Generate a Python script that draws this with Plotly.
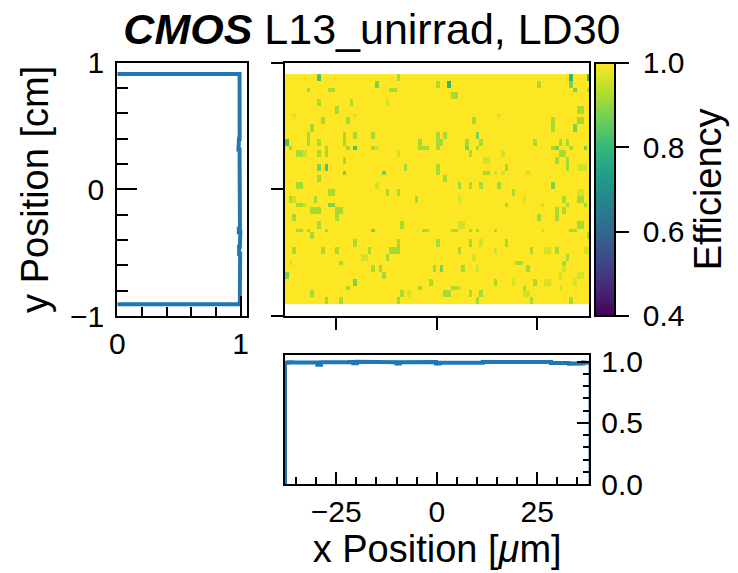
import numpy as np
import plotly.graph_objects as go

# ---- efficiency map: grid and cell values -------------------------------
N_COLS = 85
N_ROWS = 64
X_FIRST_EDGE = -37.75   # um, left edge of first column
X_BIN = 0.8943          # um
Y_TOP_EDGE = 0.91       # cm, top edge of first row
Y_BIN = 0.02838         # cm

# cells below full efficiency; every other cell is 1.0
LEVELS = {"a": 0.96, "b": 0.92, "c": 0.88, "d": 0.83, "e": 0.79}

# one entry per row (top row first): "<column><level>" tokens
ROW_DEVIATIONS = [
    "9d 31b 79e 84e",
    "9d 31b 79e 84e",
    "25c 42b 45e 70b 79c",
    "25c 42b 45e 70b 79c",
    "6b 12b 13b 29b 30b 80c 84b",
    "46b 47b",
    "46b 47b",
    "9b 18b 28a",
    "9b 18b 28a",
    "14b 81b 82b",
    "14b 81b 82b",
    "2a 19a 59a",
    "10b 17b 52b 74b 81b 82b",
    "10b 17b 52b 74b 81b 82b",
    "7b 74b 80c",
    "7b 74b 80c",
    "6b 16b 19b 24b 42b 44b 53c",
    "6b 16b 19b 24b 42b 44b 53c",
    "0d 6b 9b 16b 37b 42b 43b 50b 54b 69b 76b 78b",
    "0d 6b 9b 16b 37b 42b 43b 50b 54b 69b 76b 78b",
    "1b 11b 17b 19d 24b 25a 37b 38b 39b 42b 50c 53b 74b 75c 79b 83c",
    "3b 4b 5a 9b 11b 31a 51b 60a 76b 77b",
    "3b 4b 5a 9b 11b 31a 51b 60a 76b 77b",
    "16b 55a 56a 75b 78b",
    "16b 55a 56a 75b 78b",
    "9c 11d 33b 42b 61b 78b 81a 82a 83a",
    "9c 11d 33b 42b 61b 78b 81a 82a 83a",
    "16c 27c 42b 55b 56b 58a 60a 67a",
    "9b 44b",
    "9b 44b",
    "3b 4b 25a 48b 51b 54b 59b 74c",
    "3b 4b 25a 48b 51b 54b 59b 74c",
    "12b 13b 28b 31b 63b 81a 82a",
    "12b 13b 28b 31b 63b 81a 82a",
    "1b 2a 8b 36b 48a 66a 77b 81b 82b",
    "1b 2a 8b 36b 48a 66a 77b 81b 82b",
    "3b 4b 5a 12c 13c 61b 71a 78b 83b",
    "7b 8b 9b 14b 15b 75b 77b",
    "7b 8b 9b 14b 15b 75b 77b",
    "2b 14b 70b 75b",
    "2b 14b 70b 75b",
    "9b 32b 48a 49a 81b 82b",
    "9b 32b 48a 49a 81b 82b",
    "3b 4b 6b 11b 24c 38b 39b 46b 47b 51b 53b 58b 71a 79b 80b",
    "7b 84b",
    "7b 84b",
    "19b 31b 42b 51b 54a 61b",
    "19b 31b 42b 51b 54a 61b",
    "2b 10b 14b 23b 29b 30b 31b 48b 58a 68b 72a 73a 75b 83a 84a",
    "2b 10b 14b 23b 29b 30b 31b 48b 58a 68b 72a 73a 75b 83a 84a",
    "21a 22a 28b 52a 78b",
    "21a 22a 28b 52a 78b",
    "1a 15b 64b 65b 77b",
    "24b 26b 41b 43c 49b 53a 67b 77a",
    "24b 26b 41b 43c 49b 53a 67b 77a",
    "0c 27b 76a 81a 82a",
    "0c 27b 76a 81a 82a",
    "19c 40b 58b 63a 69b 72a 73a 80a",
    "19c 40b 58b 63a 69b 72a 73a 80a",
    "17b 37b 46b 47b 48a 66b 76a",
    "7b 32b 34a 44b 45b 51b 54b 66a 67a",
    "7b 32b 34a 44b 45b 51b 54b 66a 67a",
    "11b 15b 31b 53b 68b 79b",
    "11b 15b 31b 53b 68b 79b",
]

X_TICKS = [-25, 0, 25]
X_TICK_TEXT = ["\u221225", "0", "25"]
Y_TICKS = [-1, 0, 1]
Y_TICK_TEXT = ["\u22121", "0", "1"]
EFF_TICKS = [0.0, 0.5, 1.0]
EFF_TICK_TEXT = ["0.0", "0.5", "1.0"]
CB_TICKS = [0.4, 0.6, 0.8, 1.0]
CB_TICK_TEXT = ["0.4", "0.6", "0.8", "1.0"]

# ---- build the map -------------------------------------------------------
eff = np.ones((N_ROWS, N_COLS))
for r, row in enumerate(ROW_DEVIATIONS):
    for tok in row.split():
        eff[r, int(tok[:-1])] = LEVELS[tok[-1]]

x_edges = X_FIRST_EDGE + X_BIN * np.arange(N_COLS + 1)
y_edges = Y_TOP_EDGE - Y_BIN * np.arange(N_ROWS + 1)   # top -> bottom

# projections of the map
row_mean = eff.mean(axis=1)
col_mean = eff.mean(axis=0)

# step outline of the y projection (efficiency on x, position on y)
py_x = [0.0]
py_y = [y_edges[0]]
for r in range(N_ROWS):
    py_x += [row_mean[r], row_mean[r]]
    py_y += [y_edges[r], y_edges[r + 1]]
py_x.append(0.0)
py_y.append(y_edges[-1])

# step outline of the x projection
px_x = [x_edges[0]]
px_y = [0.0]
for c in range(N_COLS):
    px_x += [x_edges[c], x_edges[c + 1]]
    px_y += [col_mean[c], col_mean[c]]
px_x.append(x_edges[-1])
px_y.append(0.0)

# ---- figure --------------------------------------------------------------
W, H = 738, 573
FONT = "Liberation Sans, Arial, Helvetica, sans-serif"
TICK_SIZE = 30
LABEL_SIZE = 38
BLUE = "#1f77b4"
NBSP = "\u00a0"


def fx(px):
    return px / W


def fy(py):
    return 1 - py / H


top_dom = [fy(316), fy(62.7)]
left_dom = [fx(117.3), fx(246.7)]
main_dom = [fx(285), fx(589.3)]
bot_dom = [fy(484), fy(355)]

fig = go.Figure()

fig.add_trace(go.Heatmap(
    z=eff[::-1],
    x0=X_FIRST_EDGE + X_BIN / 2, dx=X_BIN,
    y0=y_edges[-1] + Y_BIN / 2, dy=Y_BIN,
    colorscale="Viridis", zmin=0.4, zmax=1.0,
    xaxis="x2", yaxis="y2",
    colorbar=dict(
        x=fx(595), xanchor="left", xpad=0,
        y=(top_dom[0] + top_dom[1]) / 2, yanchor="middle", ypad=0,
        len=top_dom[1] - top_dom[0], lenmode="fraction",
        thickness=20, outlinewidth=2, outlinecolor="black",
        tickvals=CB_TICKS, ticktext=[NBSP + t for t in CB_TICK_TEXT],
        ticks="outside", ticklen=13, tickwidth=2, tickcolor="black",
        tickfont=dict(size=TICK_SIZE, color="black", family=FONT),
        title=dict(text=NBSP + "Efficiency", side="right",
                   font=dict(size=LABEL_SIZE, color="black", family=FONT)),
    ),
))

fig.add_trace(go.Scatter(x=py_x, y=py_y, mode="lines",
                         line=dict(color=BLUE, width=4),
                         xaxis="x", yaxis="y", showlegend=False))
fig.add_trace(go.Scatter(x=px_x, y=px_y, mode="lines",
                         line=dict(color=BLUE, width=4),
                         xaxis="x3", yaxis="y3", showlegend=False))

common = dict(showline=True, linewidth=2, linecolor="black", mirror=True,
              showgrid=False, zeroline=False, tickwidth=2, tickcolor="black",
              automargin=False,
              tickfont=dict(size=TICK_SIZE, color="black", family=FONT))

fig.update_layout(
    width=W, height=H, autosize=False,
    margin=dict(l=0, r=0, t=0, b=0, autoexpand=False),
    paper_bgcolor="white", plot_bgcolor="white",
    font=dict(family=FONT, color="black"),
    showlegend=False,
    title=dict(text="<b><i>CMOS</i></b> L13_unirrad, LD30",
               x=0.504, xanchor="center", xref="paper",
               y=fy(29), yanchor="middle", yref="paper",
               automargin=False,
               font=dict(size=43, color="black", family=FONT)),
    xaxis=dict(domain=left_dom, anchor="y", range=[0, 1.05],
               tickvals=[0, 1], ticktext=["0", "1"],
               ticks="inside", ticklen=20,
               minor=dict(tickvals=[0.2, 0.4, 0.6, 0.8], ticks="inside",
                          ticklen=9, tickwidth=2, tickcolor="black"),
               **common),
    yaxis=dict(domain=top_dom, anchor="x", range=[-1, 1],
               tickvals=Y_TICKS, ticktext=Y_TICK_TEXT,
               ticks="inside", ticklen=20, ticklabelstandoff=5,
               minor=dict(tickvals=[-0.8, -0.6, -0.4, -0.2, 0.2, 0.4, 0.6, 0.8],
                          ticks="inside", ticklen=11, tickwidth=2,
                          tickcolor="black"),
               title=dict(text="y Position [cm]", standoff=10,
                          font=dict(size=LABEL_SIZE, color="black", family=FONT)),
               **common),
    xaxis2=dict(domain=main_dom, anchor="y2", range=[-37.75, 37.95],
                tickvals=X_TICKS, showticklabels=False,
                ticks="outside", ticklen=12, **common),
    yaxis2=dict(domain=top_dom, anchor="x2", range=[-1, 1],
                tickvals=Y_TICKS, showticklabels=False,
                ticks="outside", ticklen=12, **common),
    xaxis3=dict(domain=main_dom, anchor="y3", range=[-37.75, 37.95],
                tickvals=X_TICKS, ticktext=X_TICK_TEXT,
                ticks="inside", ticklen=12,
                minor=dict(tickvals=[-35, -30, -20, -15, -10, -5, 5, 10, 15, 20, 30, 35],
                           ticks="inside", ticklen=7, tickwidth=2,
                           tickcolor="black"),
                title=dict(text="x Position [<i>\u03bc</i>m]", standoff=4,
                           font=dict(size=LABEL_SIZE, color="black", family=FONT)),
                **common),
    yaxis3=dict(domain=bot_dom, anchor="x3", side="right", range=[0, 1.055],
                tickvals=EFF_TICKS, ticktext=EFF_TICK_TEXT,
                ticks="inside", ticklen=12, ticklabelstandoff=4,
                minor=dict(tickvals=[0.1, 0.2, 0.3, 0.4, 0.6, 0.7, 0.8, 0.9],
                           ticks="inside", ticklen=6, tickwidth=2,
                           tickcolor="black"),
                **common),
)

fig.write_html("out.html")
